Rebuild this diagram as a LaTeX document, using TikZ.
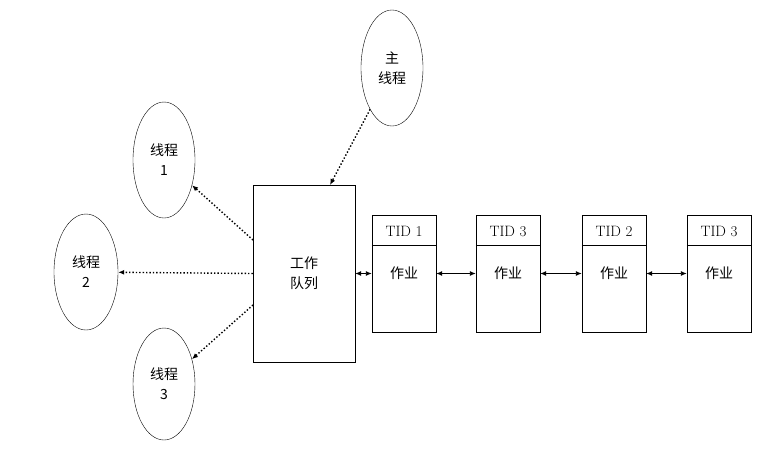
\documentclass[tikz,border=0pt]{standalone}
\usepackage{fontspec}
\newfontfamily\cjk{Noto Sans CJK SC}
\usetikzlibrary{shapes.geometric,arrows.meta}
\begin{document}
\begin{tikzpicture}[x=1pt,y=-1pt,
  th/.style={draw,ellipse,minimum width=62pt,minimum height=116pt,align=center,font=\cjk\fontsize{14}{20}\selectfont,inner sep=0pt},
  job/.style={draw,minimum width=64pt,minimum height=117pt,inner sep=0pt},
  dot/.style={dotted,line width=1.4pt,-{Latex[length=6pt,width=5pt]}},
  link/.style={line width=0.9pt,{Latex[length=6pt,width=5pt]}-{Latex[length=6pt,width=5pt]}}]
\useasboundingbox (0,0) rectangle (760,458);
\node[th] (m) at (392,68) {主\\线程};
\node[th] (t1) at (164,160) {线程\\1};
\node[th,minimum width=64pt] (t2) at (86,272) {线程\\2};
\node[th,minimum height=112pt] (t3) at (164,384) {线程\\3};
\node[draw,minimum width=102pt,minimum height=177pt,font=\cjk\fontsize{14}{20}\selectfont,align=center] (q) at (304,273.5) {工作\\队列};
\foreach \n/\x/\t in {a/404/TID 1,b/508/TID 3,c/614/TID 2,d/719/TID 3}{
  \node[job] (\n) at (\x,273.5) {};
  \draw (\n.north west) ++(0,30) -- ++(64,0);
  \node[font=\fontsize{15}{18}\selectfont] (\n h) at (\x,231) {\t};
  \node[font=\cjk\fontsize{14}{18}\selectfont] (\n j) at (\x,273) {作业};
}
\coordinate (qt) at (330,185);
\draw[dot] (m) -- (qt);
\coordinate (q1) at (253,240);
\coordinate (q3) at (253,305);
\draw[dot] (q1) -- (t1);
\draw[dot] (q.west) -- (t2);
\draw[dot] (q3) -- (t3);
\draw[link] (q.east) -- (a.west);
\draw[link] (a.east) -- (b.west);
\draw[link] (b.east) -- (c.west);
\draw[link] (c.east) -- (d.west);
\end{tikzpicture}
\end{document}
